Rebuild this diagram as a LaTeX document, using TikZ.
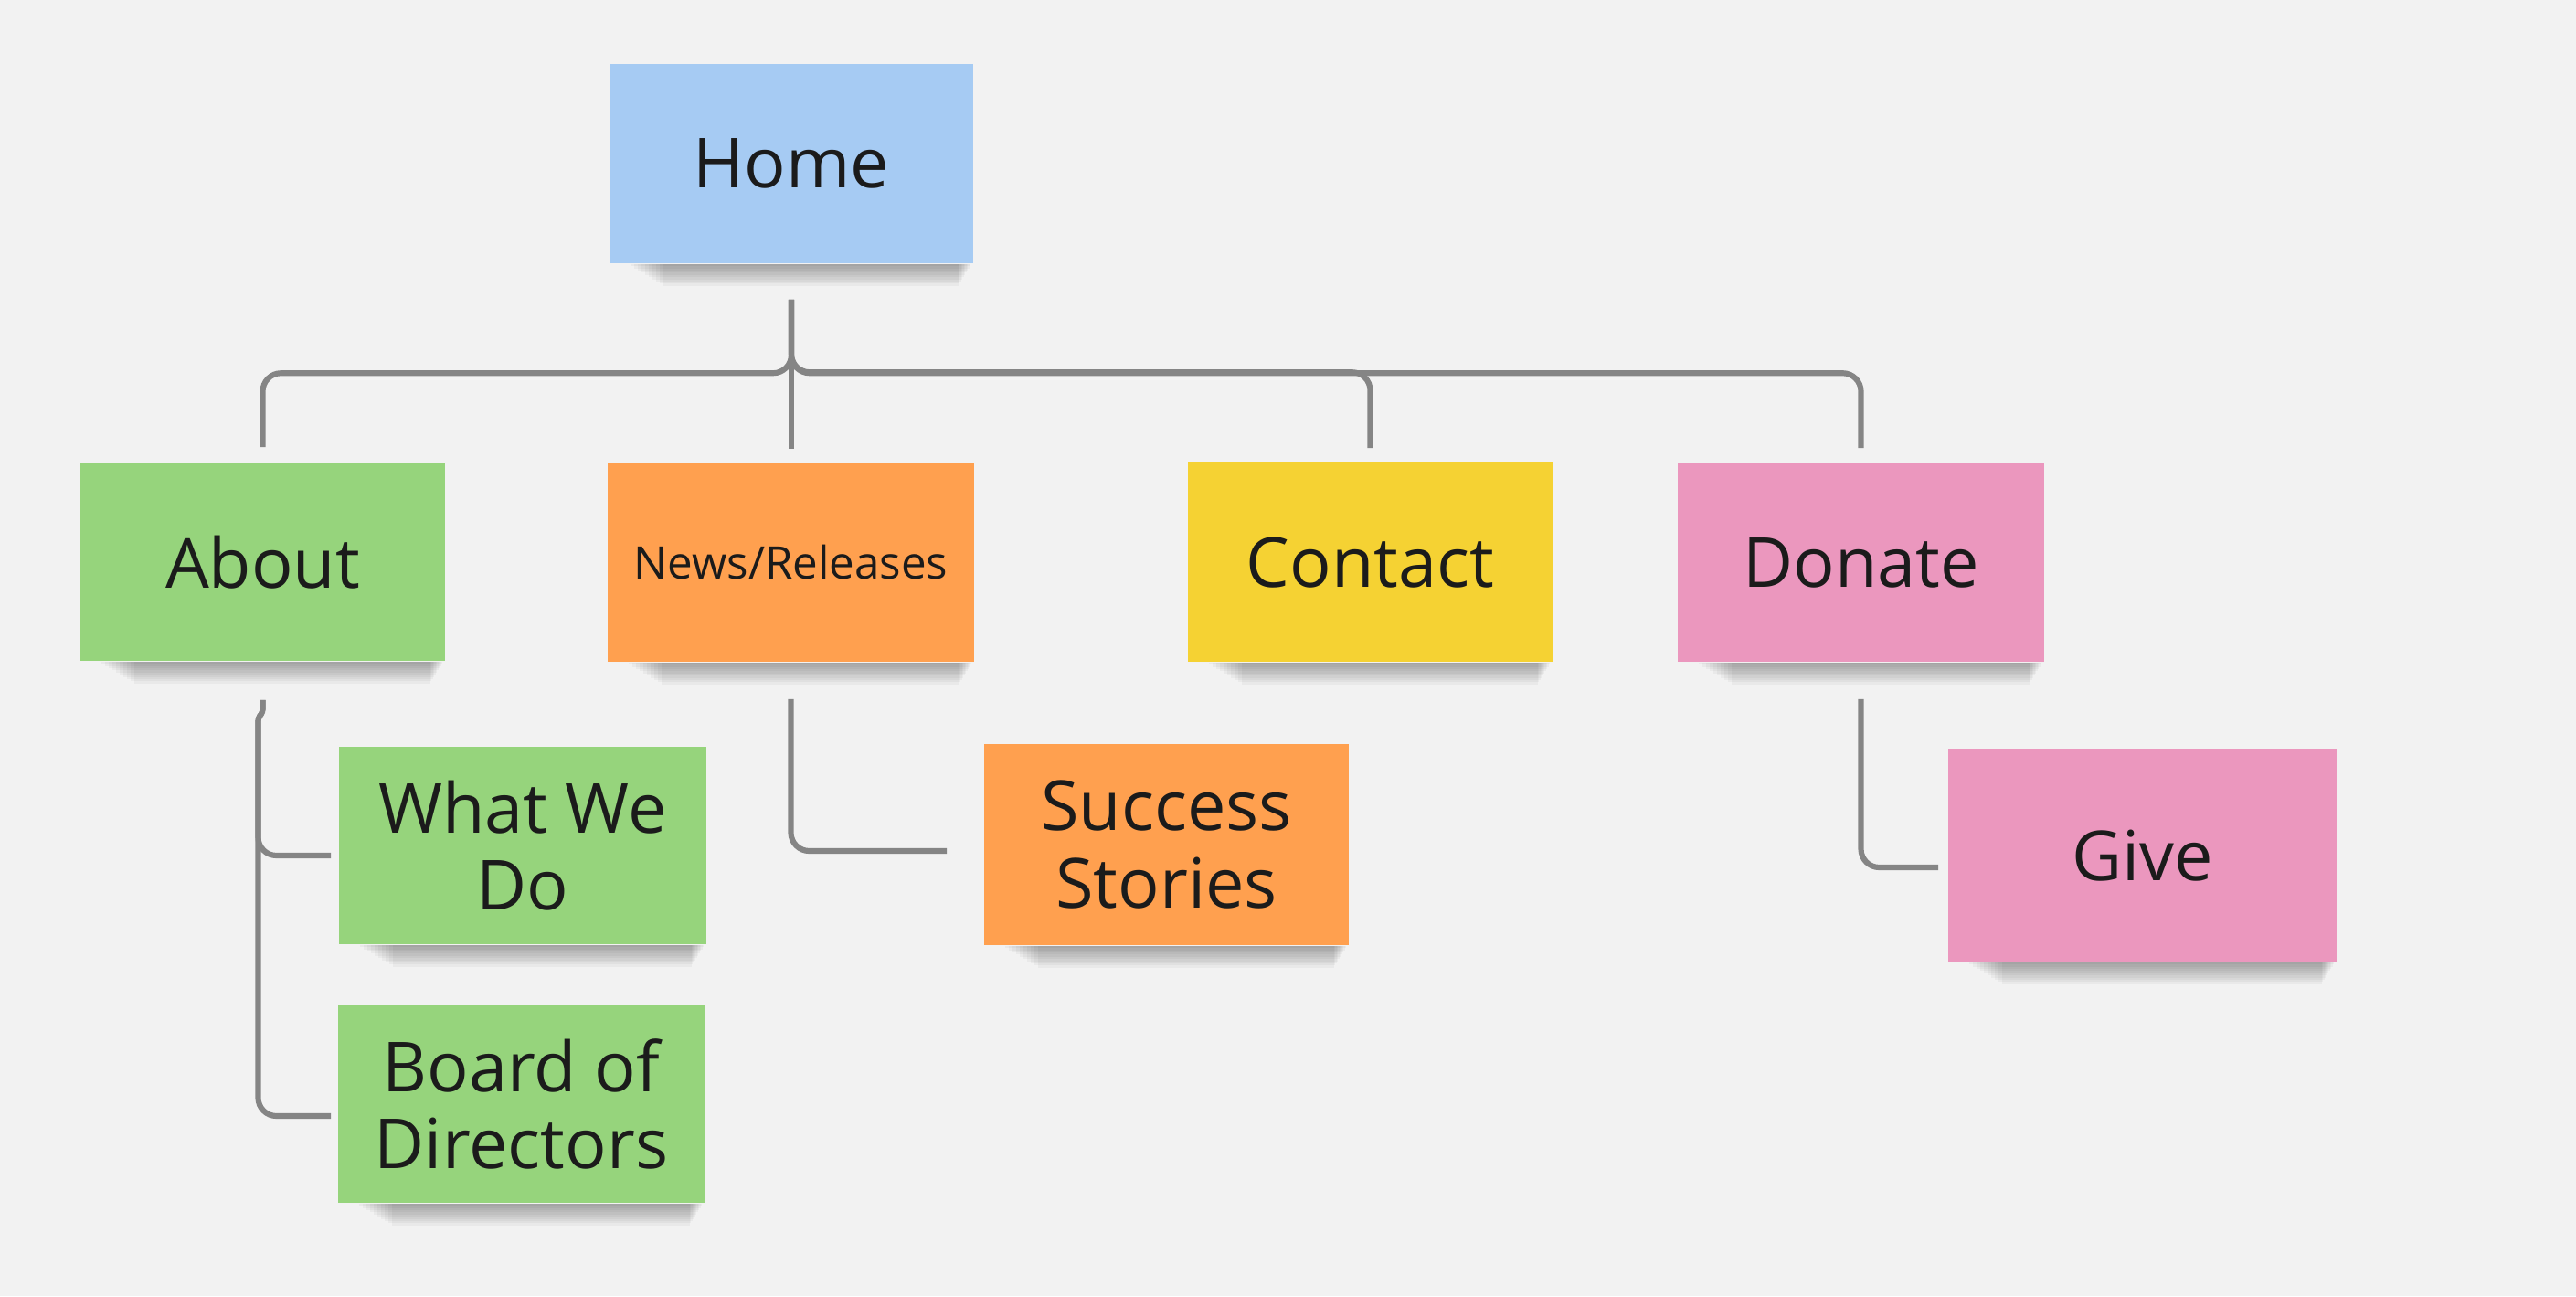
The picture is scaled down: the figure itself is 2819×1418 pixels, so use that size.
\documentclass[tikz,border=0pt]{standalone}
\usepackage{fontspec}
\setmainfont{Open Sans}
\usetikzlibrary{calc}
\definecolor{bgc}{HTML}{F2F2F2}
\definecolor{ink}{HTML}{1B1B1B}
\definecolor{linegray}{HTML}{858585}
\definecolor{cblue}{HTML}{A6CBF3}
\definecolor{cgreen}{HTML}{96D47C}
\definecolor{corange}{HTML}{FFA04F}
\definecolor{cyellow}{HTML}{F5D233}
\definecolor{cpink}{HTML}{EB97BE}
\pgfdeclarelayer{bglayer}
\pgfdeclarelayer{shadowlayer}
\pgfsetlayers{bglayer,shadowlayer,main}
\newcommand\noteshadow[1]{%
  \begin{pgfonlayer}{shadowlayer}
  \foreach \k in {1,...,10}{
    \fill[black,opacity=0.035] ($(#1.south west)+(20+4*\k,0)$) rectangle ($(#1.south east)+(-2-1.5*\k,2.4*\k)$);
  }
  \end{pgfonlayer}}
\begin{document}
\begin{tikzpicture}[x=0.01cm,y=-0.01cm,
  note/.style={rectangle, inner sep=0pt, align=center, text=ink,
    font=\fontsize{21.5}{23.9}\selectfont},
  conn/.style={draw=linegray, line width=1.75pt, rounded corners=0.2cm}]
\useasboundingbox (0,0) rectangle (2819,1418);
\begin{pgfonlayer}{bglayer}
\fill[bgc] (0,0) rectangle (2819,1418);
\end{pgfonlayer}

\node[note, fill=cblue, minimum width=3.98cm, minimum height=2.18cm] (home) at (866,179) {Home};
\node[note, fill=cgreen, minimum width=3.99cm, minimum height=2.16cm] (about) at (287.5,615) {About};
\node[note, fill=corange, minimum width=4.01cm, minimum height=2.17cm, font=\fontsize{14}{16}\selectfont] (news) at (865.5,615.5) {News/Releases};
\node[note, fill=cyellow, minimum width=3.99cm, minimum height=2.18cm] (contact) at (1499.5,615) {Contact};
\node[note, fill=cpink, minimum width=4.01cm, minimum height=2.17cm] (donate) at (2036.5,615.5) {Donate};
\node[note, fill=cgreen, minimum width=4.02cm, minimum height=2.16cm] (wwd) at (572,925) {What We\\Do};
\node[note, fill=cgreen, minimum width=4.01cm, minimum height=2.16cm] (board) at (570.5,1208) {Board of\\Directors};
\node[note, fill=corange, minimum width=3.99cm, minimum height=2.20cm] (success) at (1276.5,924) {Success\\Stories};
\node[note, fill=cpink, minimum width=4.25cm, minimum height=2.32cm] (give) at (2344.5,936) {Give};

\noteshadow{home}
\noteshadow{about}
\noteshadow{news}
\noteshadow{contact}
\noteshadow{donate}
\noteshadow{wwd}
\noteshadow{board}
\noteshadow{success}
\noteshadow{give}

% top tree
\draw[conn] ($(home.south)+(0,39)$) |- ($(about.north)+(0,-98)$) -- ($(about.north)+(0,-17)$);
\draw[conn] ($(home.south)+(0,39)$) -- ($(home.south |- news.north)+(0,-15)$);
\draw[conn] ($(home.south)+(0,39)$) |- ($(contact.north)+(0,-98)$) -- ($(contact.north)+(0,-15)$);
\draw[conn] ($(home.south)+(0,39)$) |- ($(donate.north)+(0,-98)$) -- ($(donate.north)+(0,-16)$);

% about children
\draw[conn] ($(about.south)+(0,42)$) [rounded corners=0.03cm] -- ++(0,13) -- ++(-5,7) [rounded corners=0.2cm] |- ($(wwd.west)+(-8,11)$);
\draw[conn] ($(about.south)+(0,42)$) [rounded corners=0.03cm] -- ++(0,13) -- ++(-5,7) [rounded corners=0.2cm] |- ($(board.west)+(-7,13)$);

% news child
\draw[conn] ($(news.south)+(0,40)$) |- ($(success.west)+(-40,7)$);

% donate child
\draw[conn] ($(donate.south)+(0,40)$) |- ($(give.west)+(-10,13)$);
\end{tikzpicture}
\end{document}
